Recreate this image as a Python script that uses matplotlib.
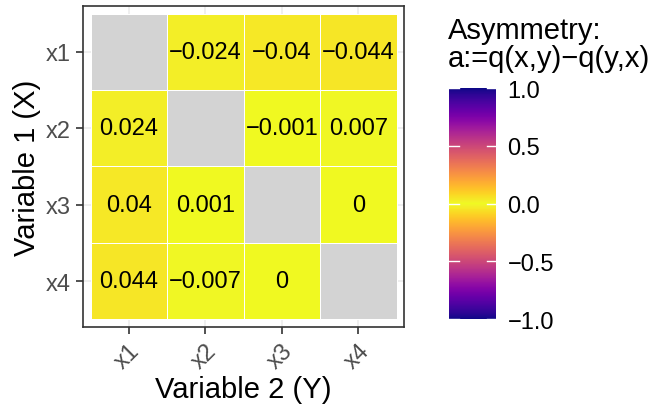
import numpy as np
import matplotlib.pyplot as plt
from matplotlib.colors import ListedColormap

plt.rcParams['font.family'] = ['Liberation Sans', 'DejaVu Sans']

variables = ['x1', 'x2', 'x3', 'x4']
# rows: Variable 1 (X), columns: Variable 2 (Y); NaN on the diagonal
asym = np.array([
    [np.nan, -0.024, -0.04, -0.044],
    [0.024, np.nan, -0.001, 0.007],
    [0.04, 0.001, np.nan, 0.0],
    [0.044, -0.007, 0.0, np.nan],
])
labels = [
    ['', '\u22120.024', '\u22120.04', '\u22120.044'],
    ['0.024', '', '\u22120.001', '0.007'],
    ['0.04', '0.001', '', '0'],
    ['0.044', '\u22120.007', '0', ''],
]
cbar_ticks = [-1.0, -0.5, 0.0, 0.5, 1.0]
cbar_labels = ['\u22121.0', '\u22120.5', '0.0', '0.5', '1.0']

# yellow at 0, dark at both ends
v = np.linspace(-1, 1, 512)
cmap = ListedColormap(plt.cm.plasma(1 - np.abs(v)))
cmap.set_bad('#D3D3D3')

fig = plt.figure(figsize=(6.53, 4.1), dpi=100)
ax = fig.add_axes([0.127, 0.2, 0.492, 0.783])

n = len(variables)
for k in range(n):
    ax.axvline(k, color='#EBEBEB', lw=1.1, zorder=0)
    ax.axhline(k, color='#EBEBEB', lw=1.1, zorder=0)

mesh = ax.pcolormesh(np.arange(n + 1) - 0.5, np.arange(n + 1) - 0.5,
                     np.ma.masked_invalid(asym), cmap=cmap, vmin=-1, vmax=1,
                     edgecolors='white', linewidth=0.5, zorder=1)
for i in range(n):
    for j in range(n):
        if labels[i][j]:
            ax.text(j, i, labels[i][j], ha='center', va='center',
                    fontsize=17, color='black', zorder=2)

ax.set_xlim(-0.6, n - 0.4)
ax.set_ylim(n - 0.4, -0.6)
ax.set_xticks(range(n))
ax.set_yticks(range(n))
ax.set_xticklabels(variables, rotation=45, ha='right', va='top',
                   rotation_mode='anchor')
ax.set_yticklabels(variables)
ax.tick_params(labelsize=17, labelcolor='#4D4D4D', color='#333333',
               length=5, width=1.2)
for s in ax.spines.values():
    s.set_color('#333333')
    s.set_linewidth(1.2)
ax.set_xlabel('Variable 2 (Y)', fontsize=21, labelpad=2)
ax.set_ylabel('Variable 1 (X)', fontsize=21, labelpad=4)

cax = fig.add_axes([0.688, 0.2195, 0.072, 0.563])
cb = fig.colorbar(mesh, cax=cax, ticks=cbar_ticks)
cb.outline.set_visible(False)
cb.ax.set_yticklabels(cbar_labels)
cb.ax.tick_params(labelsize=17, labelcolor='black', length=0, pad=8)
for t in cbar_ticks:
    cb.ax.plot([0, 0.2], [t, t], color='white', lw=1, transform=cb.ax.get_yaxis_transform())
    cb.ax.plot([0.8, 1], [t, t], color='white', lw=1, transform=cb.ax.get_yaxis_transform())
fig.text(0.686, 0.958, 'Asymmetry:\na:=q(x,y)\u2212q(y,x)', fontsize=21,
         ha='left', va='top', linespacing=0.98)

fig.savefig('out.png', dpi=100)
